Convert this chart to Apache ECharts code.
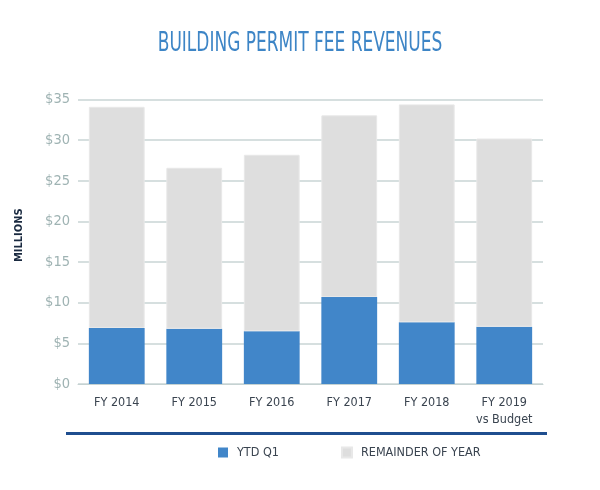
<!DOCTYPE html>
<html><head><meta charset="utf-8">
<script src="https://cdn.jsdelivr.net/npm/echarts@6/dist/echarts.min.js"></script>
<style>html,body{margin:0;padding:0;background:#fff}#c{width:600px;height:490px}</style>
</head><body><div id="c"></div>
<script>
const categories = ['FY 2014','FY 2015','FY 2016','FY 2017','FY 2018','FY 2019\nvs Budget'];
const ytdQ1 = [6.9, 6.8, 6.5, 10.7, 7.6, 7.05];
const remainder = [27.2, 19.8, 21.7, 22.35, 26.8, 23.15];
const yTicks = [0,5,10,15,20,25,30,35];
const FONT = '"DejaVu Sans Condensed", "Liberation Sans Narrow", sans-serif';
const chart = echarts.init(document.getElementById('c'));
chart.setOption({
  animation:false,
  grid:{left:78,right:57,top:99.5,bottom:106},
  legend:{top:441,left:213,itemWidth:10,itemHeight:10,itemGap:62,icon:'rect',
    textStyle:{fontFamily:FONT,fontSize:12.5,color:'#3a4450',padding:[0,0,0,4]},
    data:['YTD Q1','REMAINDER OF YEAR']},
  xAxis:{type:'category',data:categories,
    axisLine:{lineStyle:{color:'#c5d2d2',width:1}},axisTick:{show:false},
    axisLabel:{interval:0,fontFamily:FONT,fontSize:12.5,color:'#3a4450',margin:10,lineHeight:17}},
  yAxis:{type:'value',min:0,max:35,interval:5,
    name:'MILLIONS',nameLocation:'middle',nameGap:53,nameRotate:90,
    nameTextStyle:{fontFamily:FONT,fontSize:11,fontWeight:'bold',color:'#1a2a40',padding:[0,0,0,13]},
    axisLine:{show:false},axisTick:{show:false},
    splitLine:{lineStyle:{color:'#c8d4d4',width:1.5}},
    axisLabel:{fontFamily:FONT,fontSize:14.5,color:'#9fb3b3',margin:8,formatter:v=>yTicks.includes(v)?'$'+v:''}},
  series:[
    {name:'YTD Q1',type:'bar',stack:'a',data:ytdQ1,barWidth:'72%',itemStyle:{color:'#4186c9'}},
    {name:'REMAINDER OF YEAR',type:'bar',stack:'a',data:remainder,barWidth:'72%',itemStyle:{color:'#dedede',borderColor:'#e8e8e8',borderWidth:1}}
  ],
  graphic:[
    {type:'text',x:300,y:44,scaleX:0.7,style:{text:'BUILDING PERMIT FEE REVENUES',x:0,y:0,align:'center',verticalAlign:'middle',fontFamily:FONT,fontSize:27,fill:'#3d85c6'}},
    {type:'rect',shape:{x:66,y:432,width:481,height:3},style:{fill:'#1f4e8f'}}
  ]
});
</script></body></html>
